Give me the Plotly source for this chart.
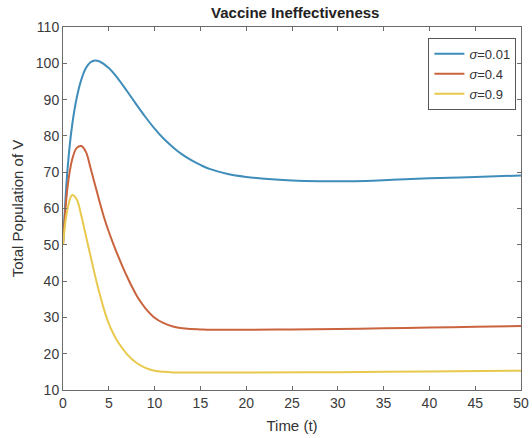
import plotly.graph_objects as go

t_blue = [0, 0.5, 1, 1.5, 2, 2.5, 3, 3.5, 4, 5, 6, 7, 8, 9, 10, 11, 12, 13, 14, 15, 16, 18, 20, 22, 25, 28, 30, 33, 36, 40, 45, 50]
v_blue = [50, 71, 83, 90.5, 95.5, 98.7, 100.3, 100.8, 100.5, 98.7, 95.8, 92.3, 88.7, 85.2, 82.0, 79.2, 76.9, 74.9, 73.3, 72.0, 70.9, 69.5, 68.7, 68.2, 67.7, 67.5, 67.5, 67.6, 67.9, 68.3, 68.7, 69.1]

t_red = [0, 0.5, 1, 1.5, 2, 2.5, 3, 3.5, 4, 4.5, 5, 5.5, 6, 6.5, 7, 7.5, 8, 8.5, 9, 10, 11, 12, 13, 14, 15, 16, 18, 20, 25, 30, 35, 40, 45, 50]
v_red = [50, 66, 73.5, 76.7, 77.2, 75.6, 71.2, 66.5, 61.8, 57.4, 53.6, 50.2, 47.0, 44.0, 41.2, 38.6, 36.2, 34.2, 32.5, 29.9, 28.4, 27.5, 27.0, 26.8, 26.7, 26.6, 26.6, 26.6, 26.7, 26.8, 27.0, 27.2, 27.4, 27.6]

t_yel = [0, 0.5, 1, 1.5, 2, 2.5, 3, 3.5, 4, 4.5, 5, 5.5, 6, 7, 8, 9, 10, 11, 12, 14, 20, 30, 40, 50]
v_yel = [50, 60, 63.7, 62.5, 58, 52.5, 47, 41.5, 36.5, 32, 28.3, 25.5, 23.2, 19.8, 17.5, 16.1, 15.3, 15.0, 14.85, 14.8, 14.8, 14.9, 15.1, 15.3]

names = ["<i>σ</i>=0.01", "<i>σ</i>=0.4", "<i>σ</i>=0.9"]
colors = ["#3f8dba", "#c9643f", "#e8c94e"]

fig = go.Figure()
for (tx, vy, nm, c) in [(t_blue, v_blue, names[0], colors[0]),
                        (t_red, v_red, names[1], colors[1]),
                        (t_yel, v_yel, names[2], colors[2])]:
    fig.add_trace(go.Scatter(x=tx, y=vy, mode="lines", name=nm,
                             line=dict(color=c, width=2, shape="spline", smoothing=1.0)))

axis_common = dict(showgrid=False, zeroline=False, showline=True, linecolor="#6b6b6b",
                   linewidth=1, mirror="allticks", ticks="inside", ticklen=4,
                   tickcolor="#6b6b6b", ticklabeloverflow="allow", automargin=False,
                   tickfont=dict(size=14, color="#3a3a3a"))

fig.update_layout(
    width=532, height=438,
    margin=dict(l=63, r=11, t=27, b=48),
    paper_bgcolor="white", plot_bgcolor="white",
    font=dict(family="Liberation Sans, Arial, sans-serif", color="#333333"),
    title=dict(text="<b>Vaccine Ineffectiveness</b>", x=0.555, xanchor="center",
               y=0.97, yanchor="middle", font=dict(size=15, color="#222222")),
    xaxis=dict(range=[0, 50], tickvals=list(range(0, 51, 5)),
               title=dict(text="Time (t)", font=dict(size=15, color="#333333"), standoff=10),
               **axis_common),
    yaxis=dict(range=[10, 110], tickvals=list(range(10, 111, 10)),
               title=dict(text="Total Population of V", font=dict(size=15, color="#333333"), standoff=8),
               **axis_common),
    legend=dict(x=0.99, y=0.97, xanchor="right", yanchor="top",
                bgcolor="white", bordercolor="#555555", borderwidth=1,
                font=dict(size=13, color="#333333"), itemwidth=30,
                tracegroupgap=0),
    showlegend=True,
)

fig.write_html("out.html")
